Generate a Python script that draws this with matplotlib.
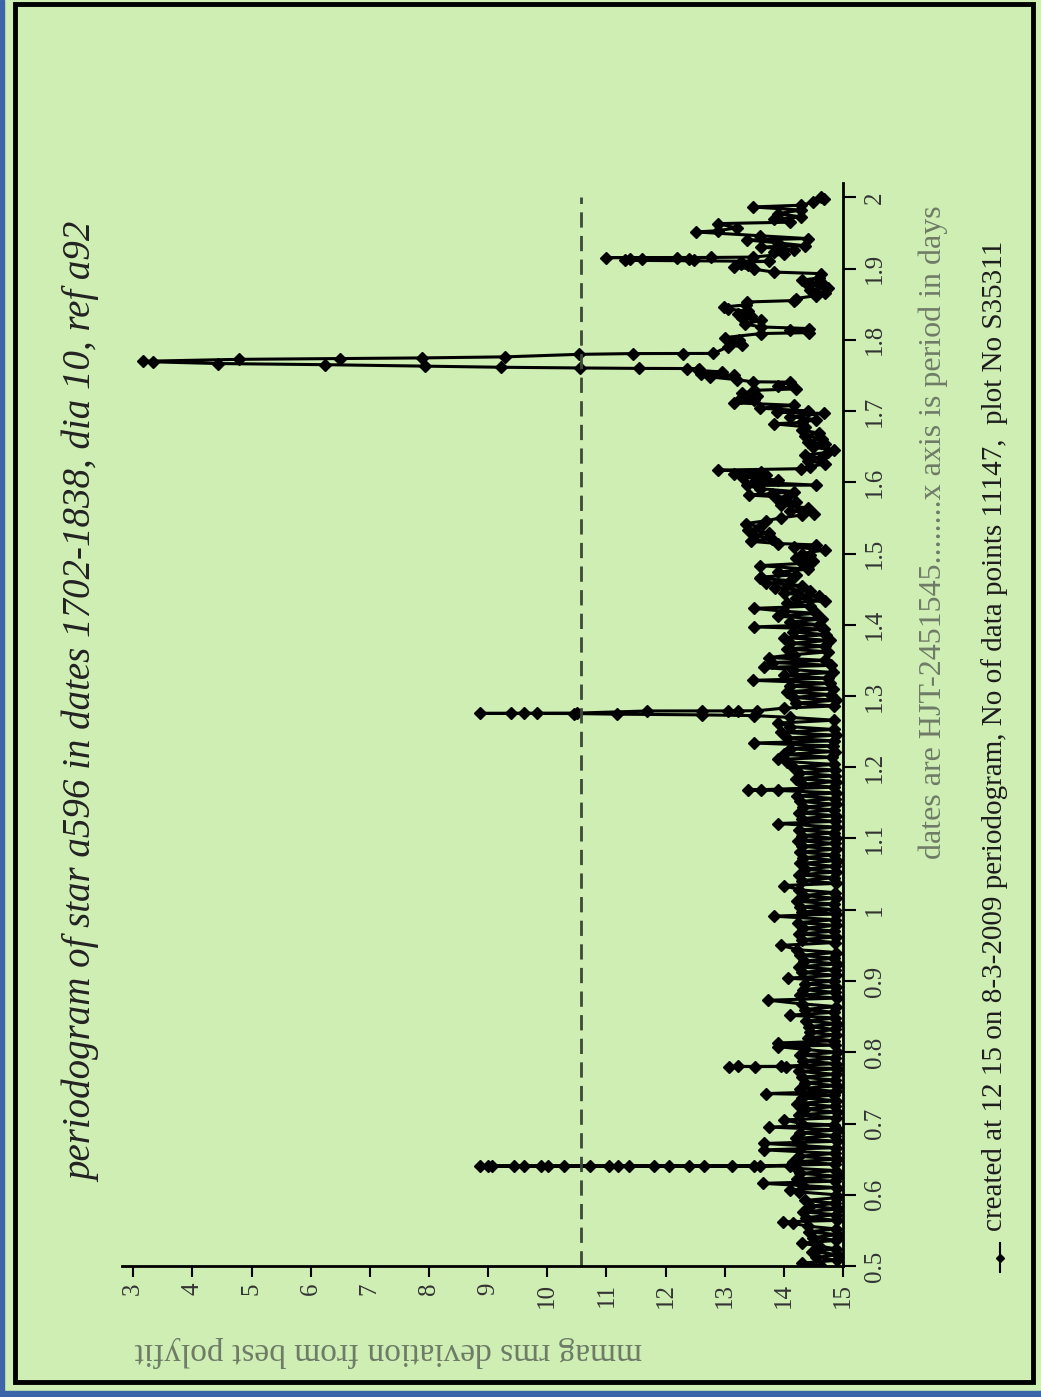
import numpy as np
import matplotlib.pyplot as plt
from matplotlib.lines import Line2D
from matplotlib.patches import Rectangle

plt.rcParams['font.family'] = ['Liberation Serif', 'DejaVu Serif']

# periodogram, region by region (period in days, mmag rms)
per_a = [0.500, 0.504, 0.508, 0.512, 0.516, 0.520, 0.524, 0.528, 0.532, 0.536, 0.540, 0.544, 0.548,
         0.552, 0.556, 0.560, 0.562, 0.564, 0.568, 0.572, 0.576, 0.580, 0.584, 0.588, 0.592, 0.596]
mag_a = [14.62, 14.30, 14.90, 14.55, 14.92, 14.48, 14.88, 14.60, 14.30, 14.89, 14.50, 14.91, 14.42,
         14.88, 14.40, 14.15, 13.98, 14.90, 14.38, 14.88, 14.33, 14.92, 14.45, 14.87, 14.36, 14.90]

per_b = [0.600, 0.604, 0.607, 0.610, 0.613, 0.616, 0.619, 0.622, 0.626, 0.630, 0.634, 0.637,
         0.6401, 0.6401, 0.6401, 0.6402, 0.6402, 0.6402, 0.6402, 0.6402, 0.6402, 0.6402, 0.6402,
         0.6402, 0.6402, 0.6403, 0.6403, 0.6403,
         0.6404, 0.6404, 0.6405, 0.6405,
         0.643, 0.646, 0.650, 0.654, 0.658, 0.663, 0.666, 0.669, 0.672, 0.675, 0.679, 0.683,
         0.687, 0.691, 0.695, 0.698]
mag_b = [14.88, 14.25, 14.10, 14.90, 14.30, 13.64, 14.86, 14.22, 14.91, 14.28, 14.88, 14.20,
         14.10, 13.49, 13.13, 12.65, 12.05, 11.80, 11.38, 11.04, 10.73, 10.28, 10.02,
         9.60, 9.43, 9.07, 9.00, 8.86,
         9.90, 11.20, 12.40, 13.60,
         14.87, 14.15, 14.90, 14.25, 14.86, 13.67, 14.88, 14.30, 13.67, 14.90, 14.20, 14.87,
         14.28, 14.92, 13.75, 14.85]

per_c = [0.700, 0.705, 0.708, 0.712, 0.716, 0.720, 0.724, 0.728, 0.732, 0.736, 0.740, 0.742,
         0.745, 0.749, 0.753, 0.757, 0.761, 0.765, 0.769, 0.773, 0.777, 0.7799, 0.7800, 0.7800,
         0.7801, 0.7802, 0.784, 0.788, 0.792, 0.796]
mag_c = [14.30, 14.00, 14.88, 14.25, 14.90, 14.35, 14.86, 14.22, 14.89, 14.30, 14.85, 13.70,
         14.88, 14.28, 14.90, 14.35, 14.86, 14.30, 14.88, 14.26, 14.90, 14.03, 13.52, 13.07,
         13.22, 13.95, 14.88, 14.32, 14.86, 14.28]

per_d = [0.800, 0.804, 0.808, 0.810, 0.813, 0.816, 0.820, 0.824, 0.828, 0.832, 0.836, 0.840, 0.844,
         0.848, 0.852, 0.856, 0.860, 0.864, 0.868, 0.873, 0.876, 0.880, 0.884, 0.888, 0.892, 0.896]
mag_d = [14.90, 14.35, 13.90, 14.87, 13.90, 14.85, 14.40, 14.88, 14.45, 14.86, 14.42, 14.90, 14.38,
         14.87, 14.10, 14.85, 14.35, 14.88, 14.30, 13.74, 14.90, 14.28, 14.86, 14.32, 14.88, 14.36]

per_e = [0.900, 0.904, 0.908, 0.912, 0.916, 0.920, 0.924, 0.928, 0.932, 0.936, 0.940, 0.944, 0.950,
         0.954, 0.958, 0.962, 0.966, 0.970, 0.974, 0.978, 0.982, 0.986, 0.991, 0.994, 0.997]
mag_e = [14.85, 14.07, 14.88, 14.30, 14.86, 14.25, 14.90, 14.34, 14.85, 14.28, 14.88, 14.22, 13.96,
         14.86, 14.30, 14.89, 14.26, 14.85, 14.33, 14.88, 14.24, 14.86, 13.83, 14.88, 14.30]

per_f = [1.000, 1.004, 1.008, 1.012, 1.016, 1.020, 1.024, 1.028, 1.034, 1.037, 1.041, 1.045, 1.049,
         1.053, 1.057, 1.061, 1.065, 1.069, 1.073, 1.077, 1.081, 1.085, 1.089, 1.093, 1.097]
mag_f = [14.87, 14.28, 14.85, 14.22, 14.88, 14.34, 14.86, 14.26, 14.00, 14.89, 14.30, 14.85, 14.25,
         14.88, 14.35, 14.86, 14.28, 14.90, 14.32, 14.85, 14.27, 14.88, 14.30, 14.86, 14.24]

per_g = [1.100, 1.104, 1.108, 1.112, 1.116, 1.121, 1.124, 1.128, 1.132, 1.136, 1.140, 1.144, 1.148,
         1.152, 1.156, 1.160, 1.164, 1.1675, 1.168, 1.1685, 1.172, 1.176, 1.180, 1.184, 1.188,
         1.192, 1.196]
mag_g = [14.89, 14.30, 14.85, 14.26, 14.88, 13.90, 14.86, 14.30, 14.88, 14.25, 14.85, 14.32, 14.89,
         14.28, 14.86, 14.22, 14.88, 13.90, 13.39, 13.62, 14.85, 14.30, 14.88, 14.20, 14.86,
         14.25, 14.87]

per_h = [1.200, 1.204, 1.208, 1.211, 1.214, 1.218, 1.222, 1.226, 1.230, 1.234, 1.237, 1.241, 1.245,
         1.249, 1.253, 1.257, 1.262, 1.266, 1.270, 1.2725, 1.2735, 1.2745, 1.2754, 1.2755, 1.2755,
         1.2756, 1.2758, 1.2760, 1.2790, 1.2790, 1.2791, 1.2792, 1.2793, 1.283, 1.286, 1.290,
         1.294, 1.298]
mag_h = [14.15, 14.85, 14.05, 13.90, 14.82, 14.00, 14.86, 14.10, 14.83, 13.50, 14.85, 14.05, 14.88,
         13.95, 14.84, 14.10, 13.90, 14.85, 14.10, 13.49, 12.62, 11.18, 10.45, 9.82, 9.38,
         8.87, 9.60, 10.50, 11.69, 12.62, 13.05, 13.22, 13.55, 14.00, 14.85, 14.20,
         14.88, 14.15]

per_i = [1.302, 1.306, 1.310, 1.314, 1.318, 1.322, 1.325, 1.329, 1.333, 1.337, 1.340, 1.343, 1.347,
         1.350, 1.354, 1.358, 1.362, 1.366, 1.370, 1.374, 1.378, 1.382, 1.386, 1.390, 1.394,
         1.397, 1.400]
mag_i = [14.80, 14.05, 14.83, 14.10, 14.78, 13.47, 14.75, 14.00, 14.83, 14.15, 13.66, 14.80, 13.80,
         14.70, 13.75, 14.17, 14.75, 14.05, 14.70, 14.10, 14.78, 14.00, 14.72, 14.15, 14.68,
         13.50, 14.60]

per_j = [1.404, 1.408, 1.412, 1.416, 1.419, 1.423, 1.426, 1.430, 1.434, 1.437, 1.441, 1.444, 1.448,
         1.451, 1.455, 1.458, 1.462, 1.465, 1.467, 1.470, 1.474, 1.478, 1.483, 1.486, 1.490,
         1.494, 1.498]
mag_j = [14.10, 14.65, 13.90, 14.55, 14.00, 13.50, 14.45, 14.05, 14.70, 14.20, 14.60, 14.00, 14.45,
         13.85, 14.30, 13.70, 14.10, 13.60, 13.62, 14.20, 13.90, 14.40, 13.60, 14.30, 14.50,
         14.20, 14.45]

per_k = [1.500, 1.505, 1.509, 1.512, 1.514, 1.517, 1.521, 1.525, 1.529, 1.533, 1.537, 1.542,
         1.546, 1.550, 1.554, 1.556, 1.560, 1.564, 1.568, 1.572, 1.575, 1.579, 1.582, 1.584,
         1.587, 1.591, 1.5955, 1.596, 1.600, 1.603, 1.607, 1.610, 1.612, 1.615, 1.617, 1.619]
mag_k = [14.30, 14.70, 14.17, 14.55, 13.90, 13.45, 13.80, 13.50, 13.75, 13.40, 13.60, 13.36,
         13.70, 13.95, 14.30, 14.51, 14.10, 14.40, 13.95, 14.20, 13.90, 14.05, 13.41, 13.80,
         14.17, 13.60, 13.38, 14.55, 13.50, 13.90, 13.30, 13.70, 13.16, 13.61, 12.88, 14.29]

per_l = [1.622, 1.626, 1.630, 1.634, 1.638, 1.642, 1.645, 1.649, 1.653, 1.657, 1.661, 1.665,
         1.669, 1.673, 1.678, 1.682, 1.684, 1.688, 1.692, 1.6965, 1.6985, 1.700, 1.704, 1.708,
         1.7115, 1.715, 1.718, 1.721, 1.725, 1.729, 1.731, 1.735, 1.7405, 1.741, 1.744, 1.7478,
         1.750, 1.7525, 1.7548, 1.757]
mag_l = [14.45, 14.70, 14.40, 14.62, 14.35, 14.74, 14.85, 14.50, 14.70, 14.40, 14.65, 14.35,
         14.60, 14.30, 14.35, 13.83, 14.30, 14.55, 14.10, 14.68, 13.89, 14.40, 13.60, 14.17,
         13.16, 13.50, 13.27, 13.55, 13.30, 13.50, 14.20, 13.90, 14.10, 13.47, 13.20, 12.75,
         13.16, 12.60, 12.95, 12.55]

# the big peak near 1.77 days
per_m = [1.7595, 1.7596, 1.7598, 1.7604, 1.7614, 1.7630, 1.7650, 1.7666, 1.7690, 1.7698,
         1.7725, 1.7736, 1.7745, 1.7760, 1.7795, 1.7806, 1.7807, 1.7808]
mag_m = [12.56, 12.37, 11.55, 10.56, 9.21, 7.94, 6.25, 4.44, 3.34, 3.17,
         4.78, 6.50, 7.88, 9.29, 10.53, 11.45, 12.29, 12.81]

per_n = [1.7899, 1.792, 1.795, 1.7993, 1.803, 1.8087, 1.810, 1.813, 1.8157, 1.818, 1.822, 1.8273,
         1.831, 1.834, 1.8367, 1.840, 1.843, 1.846, 1.849, 1.853, 1.855, 1.8578, 1.862, 1.866,
         1.870, 1.873, 1.877, 1.880, 1.8835, 1.887, 1.8928, 1.895, 1.899, 1.902, 1.9045, 1.907,
         1.9092, 1.910, 1.9115, 1.9125, 1.9130, 1.9135, 1.9140, 1.9150, 1.9153, 1.9155, 1.9160,
         1.920, 1.9232, 1.926, 1.9302, 1.932, 1.936, 1.940, 1.942, 1.946, 1.9513, 1.953, 1.957,
         1.963, 1.965, 1.969, 1.9724, 1.977, 1.982, 1.9864, 1.9888, 1.993, 1.9981, 2.000]
mag_n = [13.05, 13.30, 13.10, 13.25, 13.00, 13.61, 14.43, 14.10, 14.43, 13.61, 13.35, 13.61,
         13.30, 13.45, 13.22, 13.40, 13.05, 12.99, 13.36, 13.38, 14.17, 14.20, 14.55, 14.70,
         14.45, 14.74, 14.40, 14.65, 14.30, 14.60, 14.62, 13.83, 13.50, 13.16, 13.40, 13.27,
         13.27, 13.75, 11.32, 12.48, 11.40, 12.40, 11.60, 12.20, 10.99, 12.77, 13.47,
         14.00, 13.83, 14.17, 13.61, 14.35, 13.90, 13.38, 14.40, 13.60, 12.51, 12.88, 13.20,
         12.88, 14.10, 13.83, 14.29, 13.90, 14.29, 13.47, 14.29, 14.50, 14.68, 14.62]

threshold = 10.57
mag_ticks = [3, 4, 5, 6, 7, 8, 9, 10, 11, 12, 13, 14, 15]
per_ticks = [0.5, 0.6, 0.7, 0.8, 0.9, 1.0, 1.1, 1.2, 1.3, 1.4, 1.5, 1.6, 1.7, 1.8, 1.9, 2.0]
per_labels = ['0.5', '0.6', '0.7', '0.8', '0.9', '1', '1.1', '1.2', '1.3', '1.4', '1.5',
              '1.6', '1.7', '1.8', '1.9', '2']

title = 'periodogram of star a596 in dates 1702-1838, dia 10, ref a92'
xnote = 'dates are HJT-2451545........x axis is period in days'
footer = 'created at 12 15 on 8-3-2009 periodogram, No of data points 11147,  plot No S35311'
ylabel = 'mmag rms deviation from best polyfit'

pers = [per_a, per_b, per_c, per_d, per_e, per_f, per_g, per_h, per_i, per_j, per_k, per_l, per_m, per_n]
mags = [mag_a, mag_b, mag_c, mag_d, mag_e, mag_f, mag_g, mag_h, mag_i, mag_j, mag_k, mag_l, mag_m, mag_n]
for p, m in zip(pers, mags):
    assert len(p) == len(m), (len(p), len(m))
period = np.concatenate(pers)
mmag = np.concatenate(mags)

BG = '#CEEEB4'
W, H = 1041, 1397


def fx(px):
    return px / W


def fy(py):
    return 1 - py / H


fig = plt.figure(figsize=(W / 100, H / 100), dpi=100, facecolor=BG)

# the chart is drawn turned a quarter turn: mmag runs across, period runs up
ax = fig.add_axes([fx(122), fy(1266), fx(843) - fx(122), fy(183) - fy(1266)])
ax.set_facecolor(BG)
ax.plot(mmag, period, color='black', lw=2.2, marker='D', ms=5.8)
ax.vlines(threshold, 0.5, 2.0, colors='#3d4a38', lw=2, linestyles=(0, (5.5, 3)))
ax.set_xlim(2.81, 15.0)
ax.set_ylim(0.5, 2.02)

for s in ['top', 'left']:
    ax.spines[s].set_visible(False)
for s in ['bottom', 'right']:
    ax.spines[s].set_linewidth(2)

ax.set_xticks(mag_ticks)
ax.set_xticklabels([str(t) for t in mag_ticks])
ax.yaxis.tick_right()
ax.set_yticks(per_ticks)
ax.set_yticklabels(per_labels)
ax.tick_params(axis='x', direction='out', length=8, width=1.5, pad=4, labelsize=18,
               labelrotation=90, labelcolor='#333333')
ax.tick_params(axis='y', direction='out', length=9, width=1.5, pad=6, labelsize=18,
               labelrotation=90, labelcolor='#333333')
for lbl in ax.get_yticklabels():
    lbl.set_va('center')

fig.text(fx(83), fy(702), title, rotation=90, ha='center', va='center', fontsize=28,
         style='italic', color='#222222')
fig.text(fx(933), fy(532), xnote, rotation=90, ha='center', va='center', fontsize=23,
         color='#6e7b66')
fig.text(fx(995), fy(736), footer, rotation=90, ha='center', va='center', fontsize=21,
         color='#1c1c1c')
fig.text(fx(388), fy(1352), ylabel, rotation=180, ha='center', va='center', fontsize=24,
         color='#6e7b66')

# legend key in front of the footer
fig.add_artist(Line2D([fx(1000), fx(1000)], [fy(1272), fy(1243)], color='black', lw=1.5,
                      transform=fig.transFigure))
fig.add_artist(Line2D([fx(1000)], [fy(1258)], color='black', marker='D', ms=4,
                      transform=fig.transFigure))

# frame and blue edge
fig.add_artist(Rectangle((fx(15), fy(1382)), fx(1033) - fx(15), fy(4) - fy(1382), fill=False,
                         ec='black', lw=3.5, transform=fig.transFigure))
fig.add_artist(Rectangle((0, 0), fx(4), 1, color='#3c64a8', transform=fig.transFigure))
fig.add_artist(Rectangle((0, 0), 1, 6 / H, color='#3c64a8', transform=fig.transFigure))

fig.savefig('out.png', dpi=100, facecolor=BG)
